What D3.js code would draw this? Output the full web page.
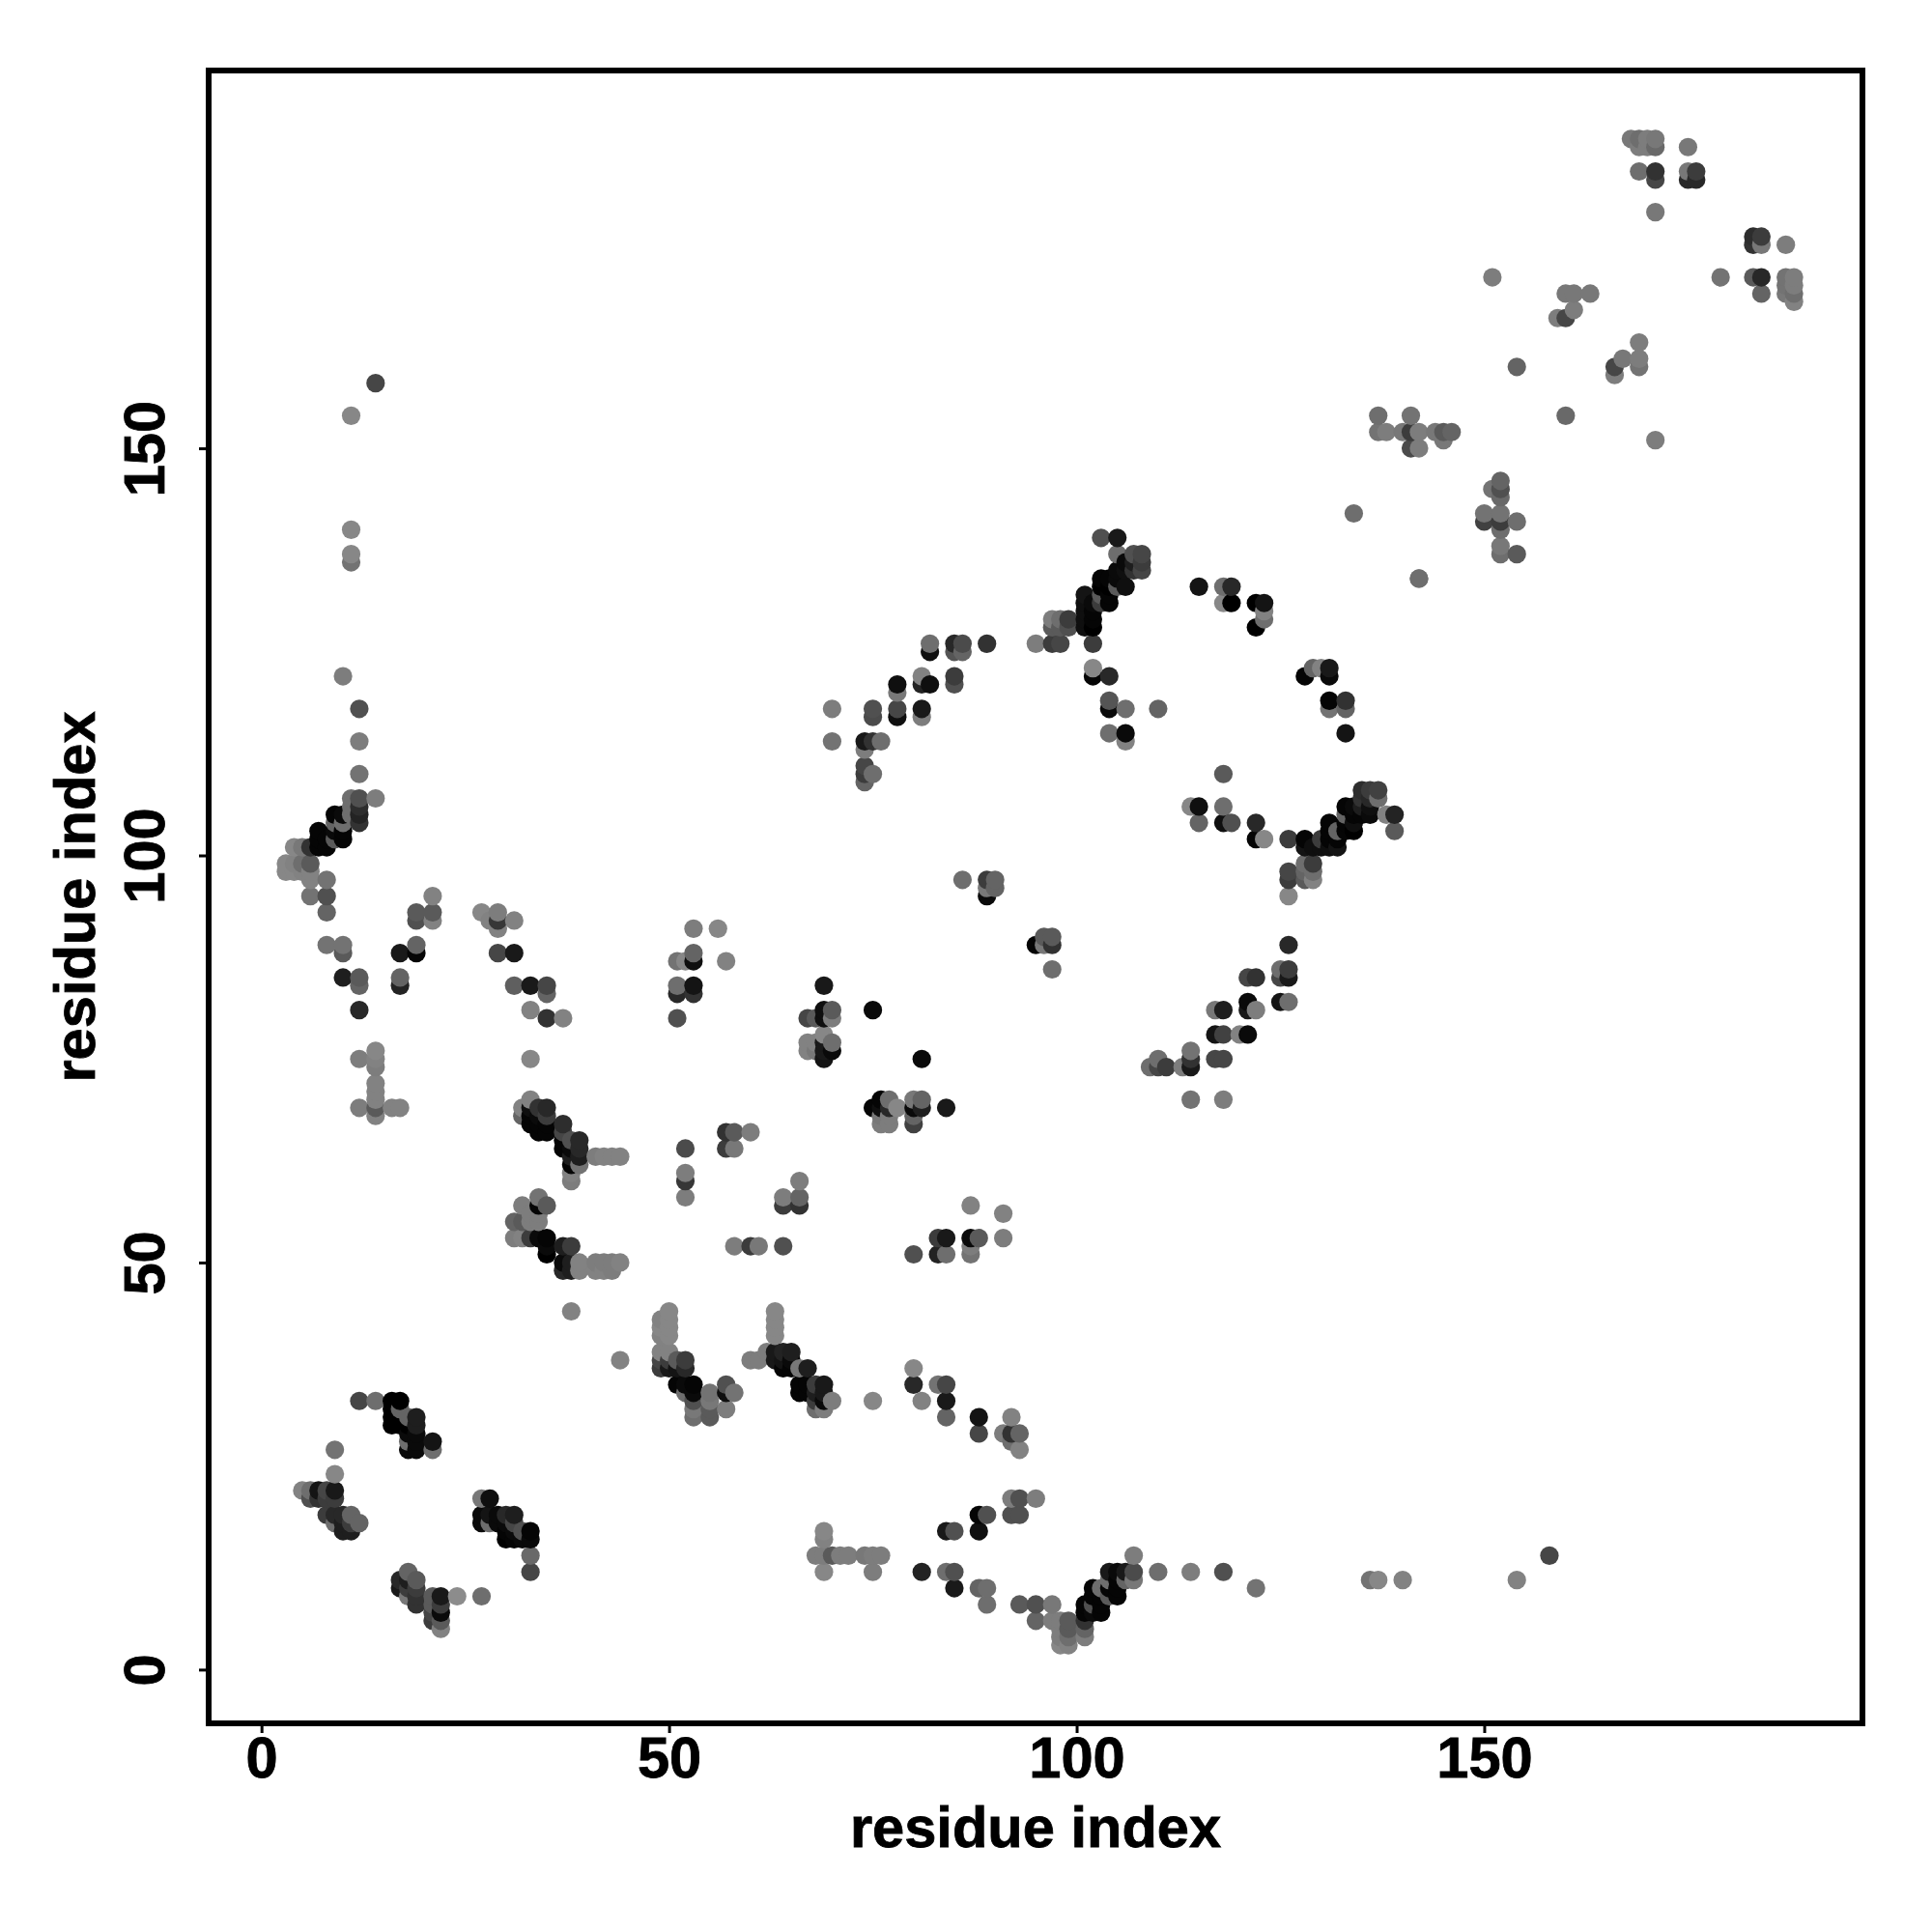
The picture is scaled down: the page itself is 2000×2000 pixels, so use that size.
<!DOCTYPE html>
<html><head><meta charset="utf-8">
<script src="https://cdn.jsdelivr.net/npm/d3@7"></script>
<style>html,body{margin:0;padding:0;background:#fff}svg{display:block}</style>
</head><body><div id="chart"></div>
<script>
// contact triples: [residue i, residue j, grey level]
const sheetLowerLeft=[[5,22,130],[6,22,110],[6,21,80],[7,22,20],[7,21,50],[8,22,70],[8,21,60],[9,22,25],[9,21,60],[9,24,135],[9,27,115],[8,19,60],[9,19,40],[9,18,110],[10,19,40],[10,18,30],[10,17,30],[11,19,100],[11,18,60],[11,17,30],[12,18,100]];
const sheetUpper=[[12,33,70],[14,33,110],[16,33,0],[16,32,0],[16,31,0],[16,30,0],[17,33,0],[17,32,100],[17,31,0],[17,30,0],[18,31,100],[18,30,0],[18,29,10],[18,28,110],[18,27,10],[19,31,30],[19,30,30],[19,29,10],[19,28,10],[19,27,10],[21,28,20],[21,27,110]];
const sheetRight=[[27,21,120],[28,21,15],[27,19,10],[27,18,10],[28,19,20],[28,18,110],[29,19,10],[29,18,10],[30,19,40],[30,18,10],[30,17,5],[30,16,0],[31,19,30],[31,18,70],[31,17,10],[31,16,5],[32,17,80],[32,16,10],[33,17,5],[33,16,10],[33,14,105],[33,12,70]];
const sheetLower=[[17,11,40],[17,10,25],[18,12,100],[18,11,30],[18,10,60],[18,9,120],[19,11,90],[19,10,60],[19,9,50],[19,8,50],[21,9,90],[21,8,90],[21,7,70],[21,6,60],[22,9,25],[22,8,60],[22,7,10],[22,6,90],[22,5,130],[24,9,140],[27,9,110]];
const helixA=[[4,101,135],[5,101,120],[6,101,50],[7,103,5],[7,102,5],[7,101,5],[8,102,5],[8,101,5],[9,105,5],[9,104,100],[9,103,10],[9,102,90],[10,105,10],[10,104,110],[10,103,5],[10,102,5],[11,107,110],[11,106,110],[11,105,110],[12,110,115],[12,107,80],[12,106,45],[12,105,35],[12,104,50],[14,107,125],[10,122,125],[12,118,80],[12,114,125],[14,158,70],[11,154,135],[11,140,135],[11,137,135],[11,136,115]];
const helixATail=[[3,99,135],[3,98,135],[4,99,130],[4,98,135],[5,99,110],[5,98,130],[6,99,90],[6,98,130],[6,97,130],[8,97,115],[6,95,115],[8,95,80],[8,93,100],[8,89,115],[10,89,115],[10,88,90],[10,85,30],[12,85,90],[12,84,100],[12,81,40],[17,88,25],[17,85,100],[17,84,35],[19,93,90],[19,92,80],[19,89,100],[19,88,5],[21,95,130],[21,93,90],[21,92,130]];
const stemLeft=[[12,75,125],[14,76,135],[14,75,130],[14,74,125],[14,72,130],[14,71,130],[14,70,130],[14,69,90],[14,68,130],[12,69,125],[16,69,130],[17,69,130]];
const loopB=[[27,93,135],[28,92,130],[29,93,125],[29,92,55],[29,91,130],[31,92,130],[29,88,70],[31,88,25],[31,84,95],[33,84,25],[35,84,70],[35,83,100],[33,81,130],[35,80,50],[37,80,130],[33,75,135]];
const helixC=[[33,70,130],[32,69,130],[32,68,100],[33,69,15],[33,68,5],[33,67,5],[34,69,50],[34,68,10],[34,67,5],[34,66,5],[35,69,40],[35,68,60],[35,67,5],[35,66,5],[37,67,45],[37,66,70],[37,65,5],[37,64,5],[38,65,80],[38,64,10],[38,63,30],[38,62,5],[39,65,40],[39,64,40],[39,63,30],[39,62,115],[38,61,130],[38,60,125],[41,63,125],[42,63,130],[43,63,130],[44,63,130]];
const helixD=[[34,58,115],[32,57,125],[34,57,5],[35,57,90],[31,55,100],[32,55,90],[33,56,125],[33,55,125],[34,56,125],[34,55,125],[31,53,125],[32,53,130],[33,53,60],[34,53,10],[35,53,5],[35,52,10],[35,51,0],[37,52,30],[38,52,60],[37,50,10],[37,49,40],[38,50,30],[38,49,30],[39,50,130],[39,49,130],[41,50,125],[41,49,130],[42,50,125],[42,49,130],[43,50,125],[43,49,125],[44,50,130],[38,44,130],[44,38,130]];
const strandE=[[50,44,135],[49,43,130],[50,43,135],[49,42,135],[50,42,135],[49,41,130],[50,41,135],[49,39,130],[50,39,130],[49,38,70],[49,37,60],[50,38,60],[50,37,25],[51,38,90],[51,37,20],[52,38,60],[52,37,40],[51,35,5],[52,35,10],[53,35,5],[52,34,110],[53,34,10],[53,33,80],[53,32,120],[53,31,110],[55,34,115],[55,33,120],[55,32,90],[55,31,90],[57,35,80],[57,34,15],[57,32,125],[58,34,115]];
const strandF=[[60,38,125],[61,38,125],[62,39,125],[63,44,135],[63,43,135],[63,42,135],[63,41,135],[63,39,25],[63,38,25],[64,39,35],[64,38,20],[64,37,5],[65,39,30],[65,38,10],[65,37,5],[66,37,120],[67,37,30],[66,35,5],[66,34,5],[67,35,5],[67,34,5],[68,35,60],[68,34,30],[68,33,60],[68,32,110],[69,35,25],[69,34,25],[69,33,10],[69,32,125],[70,33,125],[75,33,135]];
const scatterG=[[80,37,135],[80,35,40],[81,33,130],[83,35,115],[84,35,70],[84,33,25],[84,31,100],[88,31,20],[88,29,70],[92,31,130],[91,29,125],[92,29,50],[93,29,100],[92,28,110],[93,27,130],[92,21,125],[93,21,80],[95,21,125],[92,19,80],[93,19,80],[88,19,5],[89,19,80],[88,17,15],[84,17,25],[85,17,80]];
const rowH=[[69,17,135],[69,16,130],[68,14,125],[69,14,125],[70,14,90],[71,14,125],[72,14,125],[74,14,120],[75,14,125],[76,14,125],[69,12,135],[75,12,125],[81,12,35],[84,12,110],[85,12,80],[85,10,25],[88,10,100],[89,10,110],[89,8,110],[93,8,90],[95,8,80],[97,8,120],[95,6,100],[97,6,125],[98,6,125],[99,6,90],[98,5,125],[99,5,90],[98,4,125],[99,4,110],[98,3,135],[99,3,130],[101,6,50],[101,5,100],[101,4,125]];
const rowI=[[101,8,5],[101,7,5],[102,10,5],[102,9,5],[102,8,80],[102,7,10],[103,10,110],[103,9,5],[103,8,5],[103,7,5],[104,12,25],[104,11,110],[104,10,5],[104,9,90],[105,12,10],[105,11,5],[105,10,5],[105,9,5],[106,12,25],[106,11,100],[107,14,125],[107,12,75],[107,11,120],[110,12,110],[114,12,125],[118,12,80],[122,10,115],[136,11,115],[137,11,135],[140,11,130],[154,11,130],[158,14,70]];
const midJ=[[53,91,125],[56,91,135],[51,87,115],[52,87,135],[53,88,100],[53,87,15],[57,87,130],[51,84,110],[51,83,40],[53,84,20],[53,83,50],[51,80,80],[69,84,25],[75,81,10],[67,80,70],[68,80,90],[69,81,15],[69,80,15],[70,81,90],[70,80,125],[69,78,135],[67,77,130],[67,76,130],[68,77,130],[68,76,120],[69,77,25],[69,76,25],[69,75,20],[70,77,110],[70,76,10],[81,75,10]];
const midK=[[75,69,5],[76,70,5],[76,69,15],[77,70,110],[77,69,40],[78,69,135],[76,68,120],[76,67,125],[77,68,125],[77,67,125],[80,70,120],[81,70,100],[80,69,10],[81,69,30],[80,68,100],[80,67,65],[84,69,25],[57,66,50],[58,66,90],[60,66,125],[57,64,60],[58,64,120],[52,64,75],[52,61,125],[52,60,55],[52,58,125],[66,60,125],[64,58,125],[66,58,100],[64,57,60],[66,57,50],[58,52,125],[60,52,60],[61,52,120],[64,52,80]];
const midL=[[87,57,130],[91,56,130],[91,53,125],[83,53,60],[84,53,25],[87,53,10],[88,53,90],[87,52,125],[87,51,115],[80,51,80],[83,51,35],[84,51,110],[86,97,110],[89,97,60],[89,96,120],[89,95,10],[90,97,100],[90,96,100],[95,89,5],[96,90,90],[96,89,120],[97,90,90],[97,89,50],[97,86,110]];
const arcM=[[70,118,125],[70,114,115],[74,114,25],[75,114,50],[76,114,110],[74,113,125],[74,111,70],[74,110,60],[74,109,100],[75,110,110],[75,118,80],[75,117,75],[78,121,15],[78,120,120],[78,118,70],[78,117,15],[81,118,25],[81,117,125],[81,122,130],[81,121,35],[82,121,15],[85,122,60],[85,121,80],[82,126,110],[82,125,15],[85,126,40],[85,125,85],[86,126,75],[86,125,100],[89,126,50],[95,126,125],[97,126,60],[98,126,70],[97,129,125],[97,128,90],[98,129,110],[98,128,90],[99,129,60],[99,128,80]];
const helixN=[[101,132,20],[101,131,15],[101,130,15],[101,129,15],[101,128,15],[102,131,10],[102,130,5],[102,129,5],[102,128,0],[102,126,60],[103,134,5],[103,133,0],[103,132,90],[103,131,60],[104,134,5],[104,133,0],[104,132,5],[104,131,5],[105,135,10],[105,134,10],[105,133,90],[106,136,10],[106,135,15],[106,133,15],[107,137,80],[107,136,30],[107,135,50],[108,137,70],[108,136,60],[108,135,70],[103,139,80],[105,139,25],[105,137,110],[102,123,135],[102,122,5],[104,122,40],[104,119,85],[104,118,10],[106,118,110],[110,118,100],[104,115,110],[106,115,10],[106,114,130]];
const arcO=[[115,133,20],[118,133,110],[119,133,40],[118,131,135],[119,131,0],[122,131,0],[123,131,20],[123,130,130],[123,129,110],[122,128,0],[142,134,125],[128,122,5],[129,123,100],[130,123,130],[131,123,25],[131,122,10],[131,119,5],[131,118,115],[133,119,50],[133,118,100],[133,115,20]];
const helixP=[[118,110,90],[114,106,135],[115,106,15],[118,106,110],[115,104,100],[118,104,15],[119,104,80],[122,104,40],[122,102,5],[123,102,135],[126,102,60],[128,102,5],[128,101,20],[129,101,15],[130,102,60],[130,101,15],[131,104,5],[131,103,5],[131,102,5],[131,101,15],[132,103,100],[132,102,5],[132,101,20],[133,106,5],[133,105,100],[133,104,5],[133,103,5],[134,106,10],[134,105,5],[134,104,15],[134,103,0],[135,108,45],[135,107,50],[135,106,30],[135,105,5],[136,108,60],[136,107,40],[136,106,15],[136,105,10],[137,108,65],[137,107,110],[138,105,130],[139,105,35],[139,103,90],[126,98,70],[126,97,60],[128,99,110],[128,98,100],[128,97,90],[129,99,60],[129,98,110],[129,97,130]];
const rampQ=[[126,95,135],[126,89,40],[125,86,110],[126,86,60],[125,85,70],[126,85,25],[125,82,20],[126,82,110],[121,85,70],[122,85,50],[121,82,10],[121,81,25],[122,81,125],[117,81,120],[118,81,30],[117,78,20],[118,78,65],[120,78,130],[121,78,10],[117,75,70],[118,75,70],[114,76,115],[114,75,50],[114,74,25],[113,74,125],[110,75,110],[109,74,110],[110,74,70],[111,74,60],[114,70,115],[118,70,125]];
const upperR=[[137,154,110],[141,154,115],[137,152,115],[138,152,125],[140,152,120],[141,152,60],[142,152,125],[141,150,75],[142,150,125],[144,152,120],[145,152,90],[145,151,120],[146,152,100],[134,142,110],[142,134,110],[152,146,100],[152,145,80],[151,145,115],[152,144,105],[150,142,115],[152,142,115],[150,141,65],[152,141,60],[154,141,110],[152,140,110],[152,138,120],[152,137,110],[154,137,90]];
const upperS=[[151,171,125],[160,169,120],[161,169,120],[163,169,120],[161,167,125],[159,166,125],[160,166,70],[169,163,125],[169,161,125],[169,160,115],[167,161,120],[166,160,70],[166,159,125],[154,160,100],[160,154,105],[171,151,125]];
const upperT=[[168,188,120],[169,188,110],[169,187,125],[170,188,125],[170,187,125],[171,188,120],[171,187,105],[175,187,120],[169,184,110],[171,184,50],[171,183,70],[175,184,120],[175,183,40],[176,184,60],[176,183,40],[171,179,120],[183,176,45],[183,175,50],[184,176,60],[184,175,120],[187,175,125],[179,171,115],[183,171,90],[184,171,40],[184,169,100],[187,171,115],[187,170,115],[187,169,120],[188,171,125],[188,170,125],[188,169,110],[188,168,130]];

const tickValuesX=[0,50,100,150];
const tickValuesY=[0,50,100,150];
const axisTitle="residue index";
const limits=[-6.48,196.4];

const contacts=[].concat(sheetLowerLeft,sheetUpper,sheetRight,sheetLower,helixA,helixATail,stemLeft,loopB,helixC,helixD,strandE,strandF,scatterG,rowH,rowI,midJ,midK,midL,arcM,helixN,arcO,helixP,rampQ,upperR,upperS,upperT)
  .sort((a,b)=>d3.ascending(a[0],b[0])||d3.ascending(a[1],b[1]));

const W=2000,H=2000,L=216,R=1928,T=73,B=1784;
const x=d3.scaleLinear().domain(limits).range([L,R]);
const y=d3.scaleLinear().domain([-6.6,196.4]).range([B,T]);
const font='"Liberation Sans",Arial,sans-serif';
const svg=d3.select("#chart").append("svg").attr("width",W).attr("height",H).attr("viewBox",`0 0 ${W} ${H}`);
svg.append("rect").attr("width",W).attr("height",H).attr("fill","#fff");

svg.append("g").selectAll("circle").data(contacts).join("circle")
  .attr("cx",d=>x(d[0])).attr("cy",d=>y(d[1])).attr("r",9.6)
  .attr("fill",d=>`rgb(${d[2]},${d[2]},${d[2]})`);

const gx=svg.append("g").attr("transform",`translate(0,${B})`)
  .call(d3.axisBottom(x).tickValues(tickValuesX).tickSize(10).tickSizeOuter(0).tickPadding(16));
const gy=svg.append("g").attr("transform",`translate(${L},0)`)
  .call(d3.axisLeft(y).tickValues(tickValuesY).tickSize(10).tickSizeOuter(0));
gx.select(".domain").remove(); gy.select(".domain").remove();
for(const g of [gx,gy]){
  g.selectAll("line").attr("stroke","#000").attr("stroke-width",3);
  g.selectAll("text").attr("font-family",font).attr("font-weight","bold").attr("font-size",59.6).attr("fill","#000")
    .attr("stroke","#000").attr("stroke-width",0.8);
}
gx.selectAll("text").attr("dy",null).attr("y",null).attr("transform",null)
  .attr("dominant-baseline","auto").attr("y",56);
gy.selectAll("text").attr("x",null).attr("dy",null).attr("text-anchor","middle")
  .attr("transform","translate(-46,0) rotate(-90)");

svg.append("rect").attr("x",L).attr("y",T).attr("width",R-L).attr("height",B-T)
  .attr("fill","none").attr("stroke","#000").attr("stroke-width",6);

svg.append("text").attr("x",(L+R)/2).attr("y",1912).attr("text-anchor","middle")
  .attr("font-family",font).attr("font-weight","bold").attr("font-size",59.6).attr("stroke","#000").attr("stroke-width",0.8).text(axisTitle);
svg.append("text").attr("transform",`translate(98,${(T+B)/2}) rotate(-90)`).attr("text-anchor","middle")
  .attr("font-family",font).attr("font-weight","bold").attr("font-size",59.6).attr("stroke","#000").attr("stroke-width",0.8).text(axisTitle);
</script></body></html>
